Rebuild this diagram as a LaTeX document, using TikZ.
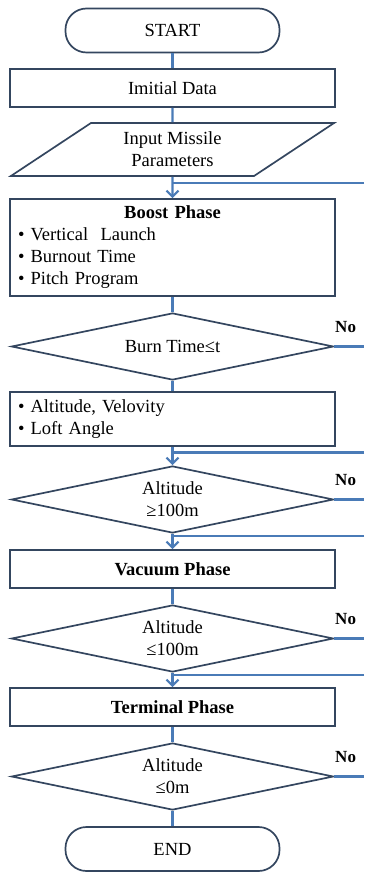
\documentclass[tikz,border=0pt]{standalone}
\usepackage{fontspec}
\setmainfont{Liberation Serif}
\usetikzlibrary{positioning,shapes.geometric,arrows.meta}
\definecolor{boxline}{HTML}{34465F}
\definecolor{flowblue}{HTML}{4A7BB7}

\begin{document}
\begin{tikzpicture}[x=1pt,y=-1pt,
	every node/.style={font=\fontsize{18.5}{22}\selectfont,inner sep=0pt},
	box/.style={draw=boxline,line width=1.7pt,minimum width=325pt,minimum height=38pt},
	startstop/.style={box,rounded corners=21pt,minimum width=214pt,minimum height=44pt},
	inputbox/.style={draw=boxline,line width=1.7pt,trapezium,trapezium left angle=36,
		trapezium right angle=144,trapezium stretches=true,
		minimum width=324pt,minimum height=53pt,align=center},
	decision/.style={draw=boxline,line width=1.7pt,diamond,aspect=4.8,
		minimum width=322pt,minimum height=67pt,align=center},
	flow/.style={draw=flowblue,line width=2.2pt},
	>={Straight Barb[length=6pt,width=12pt]},
	nolabel/.style={font=\fontsize{17}{19}\selectfont\bfseries,above=12.5pt}
	]
	\useasboundingbox (0,0) rectangle (364,874);
	
	%main column of the chart
	\node[startstop] (start) at (172.5,30.5) {START};
	\node[box] (data) at (172.5,88) {Imitial Data};
	\node[inputbox] (input) at (172.5,149.5) {Input Missile\\Parameters};
	\node[box,minimum height=97pt,text width=309pt,align=left] (boost) at (172.5,247.5)
	{\makebox[\hsize]{\textbf{Boost Phase}}\\
		\textbullet{} Vertical~ Launch\\
		\textbullet{} Burnout Time\\
		\textbullet{} Pitch Program};
	\node[decision] (d1) at (172.5,346.5) {Burn Time≤t};
	\node[box,minimum height=54pt,text width=309pt,align=left] (state) at (172.5,419)
	{\textbullet{} Altitude, Velovity\\
		\textbullet{} Loft Angle};
	\node[decision] (d2) at (172.5,499.5) {Altitude\\≥100m};
	\node[box] (vacuum) at (172.5,569) {\textbf{Vacuum Phase}};
	\node[decision] (d3) at (172.5,638.5) {Altitude\\≤100m};
	\node[box] (term) at (172.5,707) {\textbf{Terminal Phase}};
	\node[decision] (d4) at (172.5,776.5) {Altitude\\≤0m};
	\node[startstop] (end) at (172.5,849) {END};
	
	%connectors
	\draw[flow] (start) -- (data);
	\draw[flow] (data) -- (input);
	\draw[flow,->] (input) -- (boost);
	\draw[flow] (boost) -- (d1);
	\draw[flow] (d1) -- (state);
	\draw[flow,->] (state) -- (d2);
	\draw[flow,->] (d2) -- (vacuum);
	\draw[flow] (vacuum) -- (d3);
	\draw[flow,->] (d3) -- (term);
	\draw[flow] (term) -- (d4);
	\draw[flow] (d4) -- (end);
	
	%loops coming back from the right edge
	\coordinate (j1) at (172.5,183);   \coordinate (r1) at (364,183);
	\coordinate (j2) at (172.5,452.5); \coordinate (r2) at (364,452.5);
	\coordinate (j3) at (172.5,536);   \coordinate (r3) at (364,536);
	\coordinate (j4) at (172.5,675);   \coordinate (r4) at (364,675);
	\draw[flow] (r1) -- (j1);
	\draw[flow] (r2) -- (j2);
	\draw[flow] (r3) -- (j3);
	\draw[flow] (r4) -- (j4);
	
	%'No' exits of the decisions
	\coordinate (n1) at (364,346.5);
	\coordinate (n2) at (364,499.5);
	\coordinate (n3) at (364,638.5);
	\coordinate (n4) at (364,776.5);
	\draw[flow] (d1.east) -- (n1) node[nolabel,pos=.38] (no1) {No};
	\draw[flow] (d2.east) -- (n2) node[nolabel,pos=.38] (no2) {No};
	\draw[flow] (d3.east) -- (n3) node[nolabel,pos=.38] (no3) {No};
	\draw[flow] (d4.east) -- (n4) node[nolabel,pos=.38] (no4) {No};
	
\end{tikzpicture}
\end{document}
